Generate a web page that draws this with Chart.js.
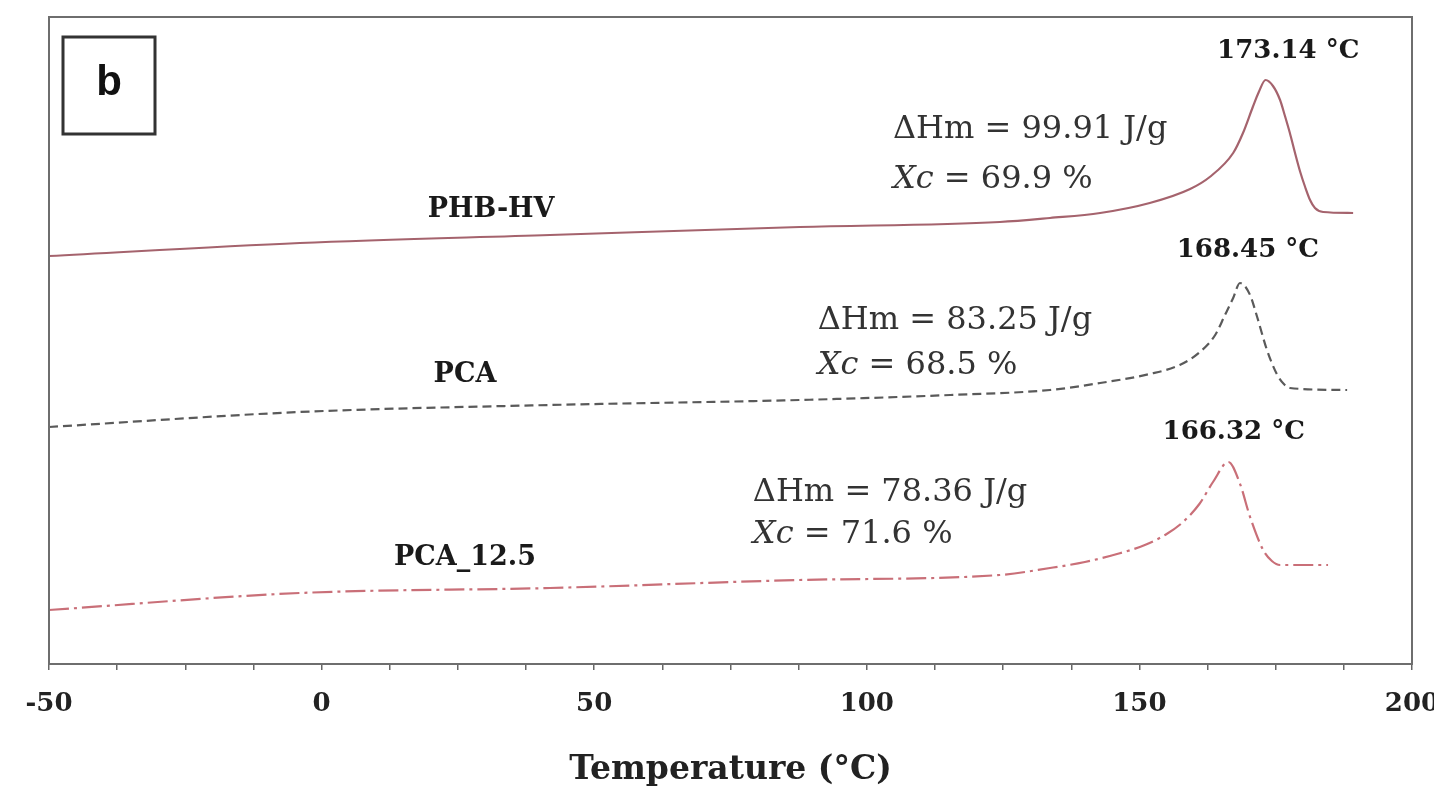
<!DOCTYPE html>
<html><head><meta charset="utf-8">
<script src="https://cdn.jsdelivr.net/npm/chart.js@4"></script>
<style>html,body{margin:0;padding:0;background:#fff;}</style>
</head><body>
<canvas id="c" width="1434" height="798"></canvas>
<script>
// ---- data (temperature °C, heat flow in arbitrary units, endo up) ----
const seriesNames = ['PHB-HV', 'PCA', 'PCA_12.5'];
const phbTemp = [-50, -4.0, 41.9, 87.7, 124.4, 133.6, 142.8, 151.9, 159.3, 162.9, 167.2, 169.0, 170.8, 171.9, 173.14, 174.5, 175.8, 176.7, 177.6, 178.5, 179.5, 180.4, 181.3, 182.2, 183.7, 189.2];
const phbFlow = [408, 421, 429, 437, 442, 446, 451, 461, 475, 487, 511, 531, 557, 572, 584, 578, 564, 548, 531, 512, 492, 477, 464, 456, 452, 451];
const pcaTemp = [-50, -4.0, 41.9, 87.7, 115.3, 133.6, 142.8, 151.9, 157.4, 161.1, 163.9, 165.7, 167.2, 168.45, 170.3, 171.6, 173.4, 175.2, 176.5, 177.6, 188.1];
const pcaFlow = [237, 252, 259, 264, 269, 274, 281, 290, 299, 312, 329, 349, 366, 381, 369, 347, 314, 290, 280, 276, 274];
const pca125Temp = [-50, -4.0, 41.9, 87.7, 124.4, 133.6, 140.0, 145.9, 151.0, 155.0, 158.0, 161.0, 163.5, 166.32, 168.4, 170.3, 172.7, 174.3, 175.8, 184.6];
const pca125Flow = [54, 71, 76, 84, 89, 96, 102, 110, 119, 130, 142, 160, 182, 202, 181, 147, 114, 103, 99, 99];
const peakTemps = [173.14, 168.45, 166.32];
const enthalpies = [99.91, 83.25, 78.36];
const crystallinity = [69.9, 68.5, 71.6];
const xTickLabels = [-50, 0, 50, 100, 150, 200];

const toPts = (t, v) => t.map((x, i) => ({x: x, y: v[i]}));

// annotation anchors in data units (temperature, flow)
const annot = {
  series: [[31.1, 454], [26.3, 289], [26.3, 106]],
  props:  [[104.8, 534, 484], [91.0, 343, 298], [79.1, 171, 129]],
  peaks:  [[177.3, 613], [169.9, 414], [167.3, 232]]
};

const textPlugin = {
  id: 'texts',
  afterDatasetsDraw(chart) {
    const ctx = chart.ctx, a = chart.chartArea;
    const xs = chart.scales.x, ys = chart.scales.y;
    ctx.save();
    // frame
    ctx.strokeStyle = '#6e6e6e'; ctx.lineWidth = 2;
    ctx.strokeRect(a.left, a.top, a.right - a.left, a.bottom - a.top);
    // panel label box
    ctx.strokeStyle = '#333'; ctx.lineWidth = 3;
    ctx.strokeRect(a.left + 14, a.top + 20, 92, 97);
    ctx.fillStyle = '#111';
    ctx.font = 'bold 42px "Liberation Sans", Arial, sans-serif';
    ctx.textAlign = 'center'; ctx.textBaseline = 'middle';
    ctx.fillText('b', a.left + 60, a.top + 66);

    const serif = '"DejaVu Serif", serif';
    // series labels
    ctx.fillStyle = '#1a1a1a';
    ctx.font = 'bold 27px ' + serif;
    seriesNames.forEach((n, i) => {
      const p = annot.series[i];
      ctx.fillText(n, xs.getPixelForValue(p[0]), ys.getPixelForValue(p[1]));
    });
    // peak labels
    ctx.font = 'bold 26px ' + serif;
    peakTemps.forEach((t, i) => {
      const p = annot.peaks[i];
      ctx.fillText(t.toFixed(2) + ' °C', xs.getPixelForValue(p[0]), ys.getPixelForValue(p[1]));
    });
    // enthalpy / crystallinity
    ctx.textAlign = 'left';
    ctx.fillStyle = '#333';
    enthalpies.forEach((h, i) => {
      const p = annot.props[i];
      const x = xs.getPixelForValue(p[0]);
      ctx.font = '32px ' + serif;
      ctx.fillText('ΔHm = ' + h.toFixed(2) + ' J/g', x, ys.getPixelForValue(p[1]));
      const y2 = ys.getPixelForValue(p[2]);
      ctx.font = 'italic 32px ' + serif;
      ctx.fillText('Xc', x, y2);
      const w = ctx.measureText('Xc').width;
      ctx.font = '32px ' + serif;
      ctx.fillText(' = ' + crystallinity[i].toFixed(1) + ' %', x + w, y2);
    });
    ctx.restore();
  }
};

new Chart(document.getElementById('c'), {
  type: 'line',
  data: {
    datasets: [
      {label: seriesNames[0], data: toPts(phbTemp, phbFlow), borderColor: '#a5636d', borderWidth: 2.2},
      {label: seriesNames[1], data: toPts(pcaTemp, pcaFlow), borderColor: '#5a5a5a', borderWidth: 2.2, borderDash: [9, 5]},
      {label: seriesNames[2], data: toPts(pca125Temp, pca125Flow), borderColor: '#c96f78', borderWidth: 2.2, borderDash: [20, 5, 3, 5]}
    ]
  },
  options: {
    responsive: false,
    animation: false,
    elements: {point: {radius: 0}, line: {cubicInterpolationMode: 'monotone', fill: false}},
    layout: {padding: {left: 49, right: 22, top: 17, bottom: 0}},
    plugins: {legend: {display: false}, tooltip: {enabled: false}},
    scales: {
      x: {
        type: 'linear', min: -50, max: 200,
        afterFit: s => { s.height = 134; s.paddingLeft = 0; s.paddingRight = 0; },
        ticks: {
          stepSize: 12.5, autoSkip: false, maxRotation: 0, padding: 19,
          color: '#222', font: {family: '"DejaVu Serif", serif', weight: 'bold', size: 26},
          callback: v => xTickLabels.includes(v) ? String(v) : ''
        },
        grid: {drawOnChartArea: false, tickLength: 6, color: '#666', lineWidth: 1.5},
        border: {color: '#666', width: 2},
        title: {display: true, text: 'Temperature (°C)', color: '#222',
          font: {family: '"DejaVu Serif", serif', weight: 'bold', size: 33},
          padding: {top: 0, bottom: 8}}
      },
      y: {display: false, min: 0, max: 647}
    }
  },
  plugins: [textPlugin]
});
</script>
</body></html>
